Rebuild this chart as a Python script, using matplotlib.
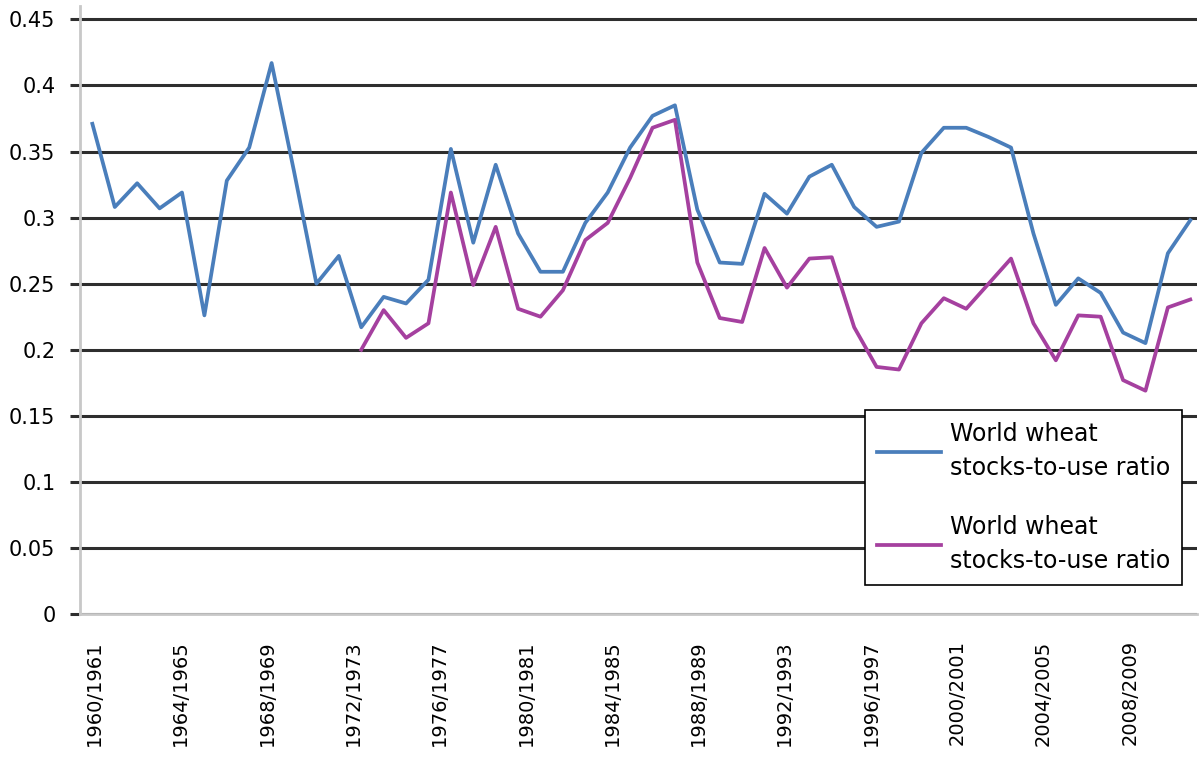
#
# World wheat stocks-to-use ratio, 1960/1961 onwards
#

import numpy as np
import matplotlib.pyplot as plt

plt.rc('font', family=['DejaVu Sans'])

# Marketing years, one value per year
seasons = ['{:d}/{:d}'.format(y, y + 1) for y in range(1960, 2010)]

# Blue series
ratio_a = [0.371, 0.308, 0.326, 0.307, 0.319, 0.226, 0.328, 0.353, 0.417, 0.335,
           0.250, 0.271, 0.217, 0.240, 0.235, 0.253, 0.352, 0.281, 0.340, 0.288,
           0.259, 0.259, 0.296, 0.319, 0.353, 0.377, 0.385, 0.306, 0.266, 0.265,
           0.318, 0.303, 0.331, 0.340, 0.308, 0.293, 0.297, 0.349, 0.368, 0.368,
           0.361, 0.353, 0.288, 0.234, 0.254, 0.243, 0.213, 0.205, 0.273, 0.298]

# Purple series, starts in 1972/1973
ratio_b = [None] * 12 + [
           0.200, 0.230, 0.209, 0.220, 0.319, 0.249, 0.293, 0.231,
           0.225, 0.245, 0.283, 0.296, 0.330, 0.368, 0.374, 0.266, 0.224, 0.221,
           0.277, 0.247, 0.269, 0.270, 0.217, 0.187, 0.185, 0.220, 0.239, 0.231,
           0.250, 0.269, 0.220, 0.192, 0.226, 0.225, 0.177, 0.169, 0.232, 0.238]

series_labels = ['World wheat\nstocks-to-use ratio', 'World wheat\nstocks-to-use ratio']

# Category labels shown on the axis
tick_labels = ['1960/1961', '1964/1965', '1968/1969', '1972/1973', '1976/1977',
               '1980/1981', '1984/1985', '1988/1989', '1992/1993', '1996/1997',
               '2000/2001', '2004/2005', '2008/2009']
y_ticks = [0, 0.05, 0.1, 0.15, 0.2, 0.25, 0.3, 0.35, 0.4, 0.45]
y_tick_labels = ['0', '0.05', '0.1', '0.15', '0.2', '0.25', '0.3', '0.35', '0.4', '0.45']

x = np.arange(len(seasons))
yb = np.array([np.nan if v is None else v for v in ratio_b])

fig = plt.figure(figsize=(12, 7.76), dpi=100)
ax = fig.add_axes([0.0667, 0.2088, 0.9308, 0.7832])

ax.set_axisbelow(True)
ax.grid(True, axis='y', color='#2e2e2e', linewidth=2.2)
ax.plot(x, ratio_a, color='#4a7ebb', linewidth=2.7, label=series_labels[0])
ax.plot(x, yb, color='#a5409f', linewidth=2.7, label=series_labels[1])

ax.set_xlim(-0.55, len(seasons) - 0.7)
ax.set_ylim(0, 0.46)
ax.set_yticks(y_ticks)
ax.set_yticklabels(y_tick_labels, fontsize=15)
ax.tick_params(axis='y', length=7.2, width=2.2, color='#2e2e2e', pad=10.5)

# labels sit a little closer than every fourth year in the original
ax.set_xticks(np.arange(len(tick_labels)) * 3.85 + 0.1)
ax.set_xticklabels(tick_labels, rotation=90, fontsize=14)
ax.tick_params(axis='x', length=0, pad=19)

for s in ['top', 'right']:
    ax.spines[s].set_visible(False)
ax.spines['left'].set_color('#c8c8c8')
ax.spines['left'].set_linewidth(2)
ax.spines['bottom'].set_color('#c8c8c8')
ax.spines['bottom'].set_linewidth(2)

leg = ax.legend(loc='upper left', bbox_to_anchor=(0.7208, 0.4716), bbox_transform=fig.transFigure,
                fontsize=17, frameon=True, fancybox=False, edgecolor='black', framealpha=1,
                labelspacing=1.45, handlelength=2.7, borderpad=0.5, handletextpad=0.4,
                borderaxespad=0)
for t in leg.get_texts():
    t.set_linespacing(1.55)
leg.get_frame().set_linewidth(1.2)

plt.savefig('out.png', dpi=100)
